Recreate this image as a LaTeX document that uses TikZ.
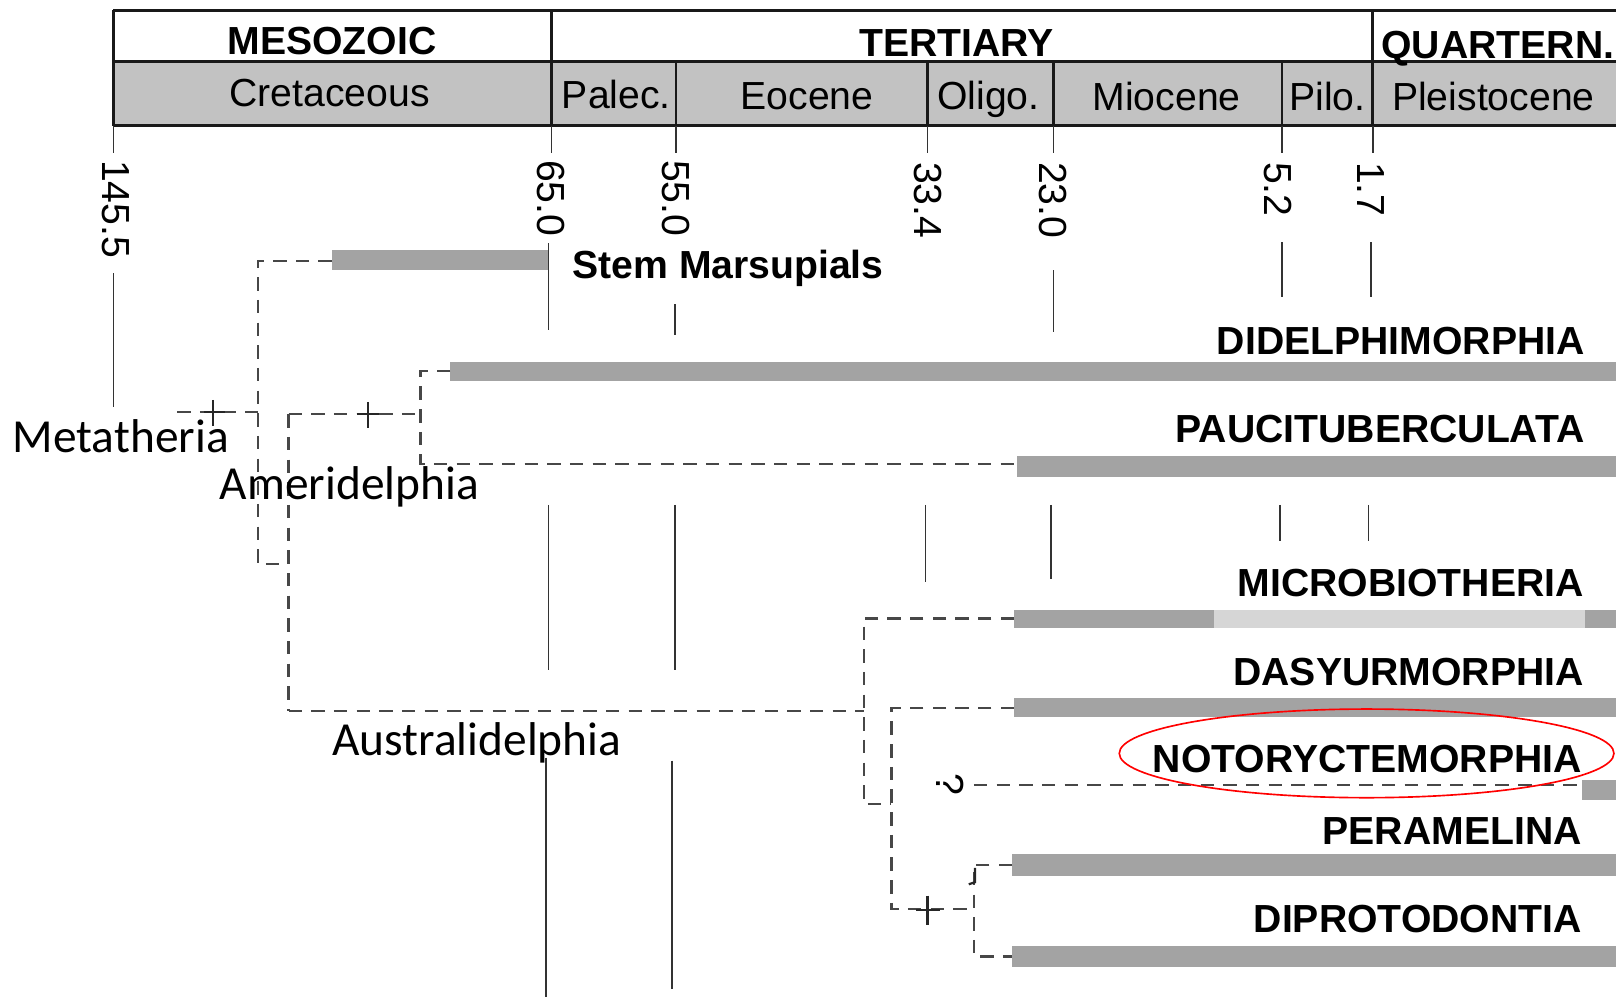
\documentclass[tikz,border=0pt]{standalone}
\usepackage{fontspec}
\setmainfont{Liberation Sans}
\newfontfamily\clfont{Carlito}
\begin{document}
\begin{tikzpicture}[x=0.5pt,y=-0.5pt,
  hdrline/.style={line width=1.3pt, draw=black!90},
  tickline/.style={line width=0.75pt, draw=black!80},
  treeline/.style={line width=1.1pt, draw=black!72, dash pattern=on 6.5pt off 4.5pt},
  crossmark/.style={line width=1.1pt, draw=black!85},
  barfill/.style={fill=black!36},
  lightbar/.style={fill=black!16},
  era/.style={font=\fontsize{19}{22}\selectfont\bfseries, inner sep=0pt, anchor=base},
  epoch/.style={font=\fontsize{19}{22}\selectfont, inner sep=0pt, anchor=base},
  age/.style={font=\fontsize{19}{22}\selectfont, inner sep=0pt, rotate=-90, anchor=west},
  taxon/.style={font=\fontsize{19}{22}\selectfont\bfseries, inner sep=0pt, anchor=base east},
  clade/.style={font=\clfont\fontsize{23}{27}\selectfont, inner sep=0pt, anchor=base west},
]
\useasboundingbox (0,0) rectangle (1568,967);

% ---------- header ----------
\fill[black!24] (110,60) rectangle (1568,122);
\draw[hdrline] (110,10) -- (1568,10);
\draw[hdrline] (110,60) -- (1568,60);
\draw[hdrline] (110,122) -- (1568,122);
\draw[hdrline] (110,10) -- (110,122);
\draw[hdrline] (535,10) -- (535,122);
\draw[hdrline] (1332,10) -- (1332,122);
\foreach \xx in {656,900,1022,1244} \draw[hdrline] (\xx,60) -- (\xx,122);
\foreach \xx in {110,535,656,900,1022,1244,1332} \draw[tickline] (\xx,122) -- (\xx,148);

\node[era] (meso) at (322,53) {MESOZOIC};
\node[era] (tert) at (928,55) {TERTIARY};
\node[era, anchor=base west] (quat) at (1340,57) {QUARTERN.};
\node[epoch] (cret) at (320,103) {Cretaceous};
\node[epoch] (palec) at (598,105) {Palec.};
\node[epoch] (eoc) at (783,106) {Eocene};
\node[epoch] (oligo) at (959,106) {Oligo.};
\node[epoch] (mioc) at (1132,107) {Miocene};
\node[epoch] (plio) at (1288,107) {Pilo.};
\node[epoch] (pleist) at (1449,107) {Pleistocene};

% ---------- ages ----------
\node[age] (a1455) at (112,155) {145.5};
\node[age] (a650) at (535,155) {65.0};
\node[age] (a550) at (656,155) {55.0};
\node[age] (a334) at (900,157) {33.4};
\node[age] (a230) at (1022,157) {23.0};
\node[age] (a52) at (1240,157) {5.2};
\node[age] (a17) at (1330,157) {1.7};

% ---------- time lines ----------
\draw[tickline] (110,265) -- (110,395);
\draw[tickline] (532,236) -- (532,320);
\draw[tickline] (655,295) -- (655,325);
\draw[tickline] (1022,262) -- (1022,322);
\draw[tickline] (1244,235) -- (1244,288);
\draw[tickline] (1330,235) -- (1330,288);

\draw[tickline] (532,490) -- (532,650);
\draw[tickline] (655,490) -- (655,650);
\draw[tickline] (898,490) -- (898,565);
\draw[tickline] (1020,490) -- (1020,562);
\draw[tickline] (1242,490) -- (1242,525);
\draw[tickline] (1328,490) -- (1328,525);

\draw[tickline] (530,735) -- (530,967);
\draw[tickline] (652,738) -- (652,960);

% ---------- bars ----------
\fill[barfill] (322,243) rectangle (532,262);
\fill[barfill] (437,351) rectangle (1568,370);
\fill[barfill] (987,442) rectangle (1568,463);
\fill[barfill] (984,592) rectangle (1178,609);
\fill[lightbar] (1178,592) rectangle (1538,609);
\fill[barfill] (1538,592) rectangle (1568,609);
\fill[barfill] (984,677) rectangle (1568,696);
\fill[barfill] (1535,757) rectangle (1568,776);
\fill[barfill] (982,829) rectangle (1568,850);
\fill[barfill] (982,918) rectangle (1568,938);

\coordinate (stemw) at (322,253);
\coordinate (didw) at (437,360);
\coordinate (pauw) at (987,450);
\coordinate (micw) at (984,600);
\coordinate (dasw) at (984,687);
\coordinate (notw) at (1535,762);
\coordinate (perw) at (982,839);
\coordinate (dipw) at (982,928);

% ---------- taxon labels ----------
\node[taxon, anchor=base west] (stem) at (555,270) {Stem Marsupials};
\node[taxon] (did) at (1538,344) {DIDELPHIMORPHIA};
\node[taxon] (pau) at (1538,429) {PAUCITUBERCULATA};
\node[taxon] (mic) at (1537,579) {MICROBIOTHERIA};
\node[taxon] (das) at (1537,665) {DASYURMORPHIA};
\node[taxon] (not) at (1535,750) {NOTORYCTEMORPHIA};
\node[taxon] (per) at (1535,819) {PERAMELINA};
\node[taxon] (dip) at (1535,905) {DIPROTODONTIA};

% ---------- tree ----------
\coordinate (r0) at (172,400);
\coordinate (rj) at (250,400);
\coordinate (atop) at (250,253);
\coordinate (abot) at (250,547);
\coordinate (bj) at (280,547);
\coordinate (btop) at (280,402);
\coordinate (bbot) at (280,690);
\coordinate (cmid) at (408,402);
\coordinate (ctop) at (408,360);
\coordinate (cbot) at (408,450);
\coordinate (dmid) at (838,690);
\coordinate (dtop) at (838,600);
\coordinate (dbot) at (838,780);
\coordinate (ej) at (865,780);
\coordinate (etop) at (865,687);
\coordinate (ebot) at (865,882);
\coordinate (fmid) at (945,882);
\coordinate (ftop) at (945,839);
\coordinate (fbot) at (945,928);
\coordinate (nstart) at (945,762);

\draw[treeline] (r0) -- (rj);
\draw[treeline] (stemw) -- (atop) -- (abot) -- (bj);
\draw[treeline] (btop) -- (bbot);
\draw[treeline] (btop) -- (cmid);
\draw[treeline] (didw) -- (ctop) -- (cbot) -- (pauw);
\draw[treeline] (bbot) -- (dmid);
\draw[treeline] (micw) -- (dtop) -- (dbot) -- (ej);
\draw[treeline] (dasw) -- (etop) -- (ebot) -- (fmid);
\draw[treeline] (perw) -- (ftop) -- (fbot) -- (dipw);
\draw[treeline] (nstart) -- (notw);
\draw[crossmark] (946,842) -- (946,856) -- (940,858);

\draw[crossmark] (207,388) -- (207,413) (198,400) -- (218,400);
\draw[crossmark] (357,390) -- (357,415) (346,402) -- (368,402);
\draw[crossmark] (900,869) -- (900,898) (889,883) -- (912,883);

\node[font=\fontsize{19}{22}\selectfont, rotate=-90, inner sep=0pt] (qm) at (922,761) {?};

% ---------- clade names ----------
\node[clade] (meta) at (12,439) {Metatheria};
\node[clade] (amer) at (213,485) {Ameridelphia};
\node[clade] (aust) at (322,733) {Australidelphia};

% ---------- highlight ----------
\draw[red, line width=0.8pt] (1326,731) ellipse [x radius=240, y radius=43];
\end{tikzpicture}
\end{document}
